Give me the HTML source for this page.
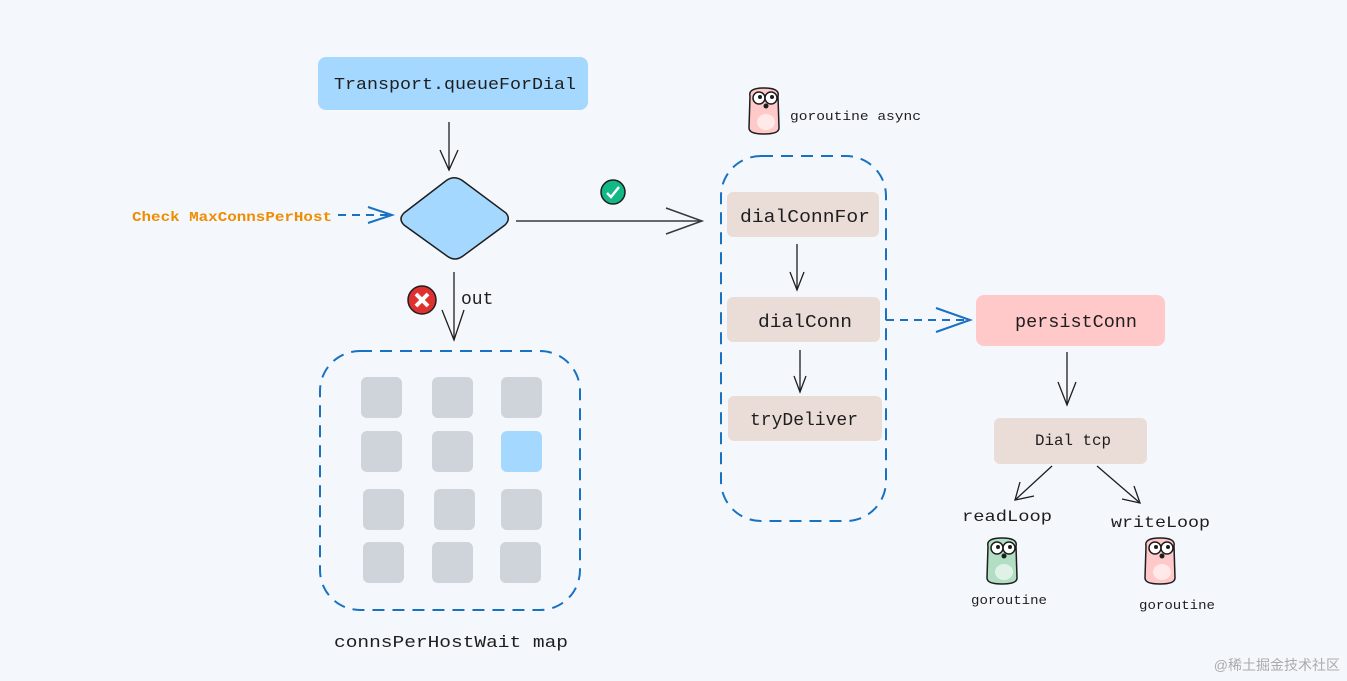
<!DOCTYPE html>
<html><head><meta charset="utf-8"><style>
html,body{margin:0;padding:0;background:#f4f8fd;}
svg{display:block;}
text{font-family:"Liberation Mono","DejaVu Sans Mono",monospace;fill:#1e1e1e;}
</style></head><body>
<svg width="1347" height="681" viewBox="0 0 1347 681" xmlns="http://www.w3.org/2000/svg">
<defs>
<g id="gopher">
<path d="M-14,-18 Q-16,-26 0,-26 Q16,-26 14,-18 L15,14 Q15,20 0,20 Q-15,20 -15,14 Z" stroke="#1e1e1e" stroke-width="1.5"/>
<circle cx="-5" cy="-16" r="6" fill="#fff" stroke="#1e1e1e" stroke-width="1.5"/>
<circle cx="7" cy="-16" r="6" fill="#fff" stroke="#1e1e1e" stroke-width="1.5"/>
<circle cx="-4" cy="-17" r="2" fill="#1e1e1e"/><circle cx="8" cy="-17" r="2" fill="#1e1e1e"/>
<circle cx="2" cy="-8" r="2.5" fill="#1e1e1e"/>
<ellipse cx="2" cy="8" rx="9" ry="8" fill="#fff" opacity="0.6"/>
</g>
</defs>
<rect width="1347" height="681" fill="#f4f8fd"/>

<rect x="318" y="57" width="270" height="53" rx="8" fill="#a5d8ff"/>
<text x="334" y="89" font-size="17" textLength="242" lengthAdjust="spacingAndGlyphs">Transport.queueForDial</text>
<line x1="449" y1="122" x2="449" y2="170" stroke="#1e1e1e" stroke-width="1.3"/>
<polyline points="440,150 449,170 458,150" fill="none" stroke="#1e1e1e" stroke-width="1.3"/>

<path d="M447,180 Q455,175 463,181 L506,213 Q511,219 505,225 L463,256 Q455,262 447,256 L404,225 Q398,219 404,213 Z" fill="#a5d8ff" stroke="#1e1e1e" stroke-width="1.5"/>
<text x="132" y="221" font-size="14" font-weight="bold" textLength="200" lengthAdjust="spacingAndGlyphs" style="fill:#f08c00">Check MaxConnsPerHost</text>
<line x1="338" y1="215" x2="392" y2="215" stroke="#1971c2" stroke-width="2" stroke-dasharray="8,6"/>
<polyline points="368,207 392,215 368,223" fill="none" stroke="#1971c2" stroke-width="2"/>

<line x1="516" y1="221" x2="702" y2="221" stroke="#343a40" stroke-width="1.5"/>
<polyline points="666,208 702,221 666,234" fill="none" stroke="#343a40" stroke-width="1.5"/>
<circle cx="613" cy="192" r="12" fill="#12b886" stroke="#1e1e1e" stroke-width="1.5"/>
<polyline points="607,193 611,197 619,187" fill="none" stroke="#fff" stroke-width="2.5"/>

<line x1="454" y1="272" x2="454" y2="340" stroke="#1e1e1e" stroke-width="1.3"/>
<polyline points="442,310 454,340 464,310" fill="none" stroke="#1e1e1e" stroke-width="1.3"/>
<circle cx="422" cy="300" r="14" fill="#e03131" stroke="#1e1e1e" stroke-width="1.5"/>
<path d="M416,294 L428,306 M428,294 L416,306" stroke="#fff" stroke-width="4"/>
<text x="461" y="304" font-size="18">out</text>

<rect x="320" y="351" width="260" height="259" rx="40" fill="none" stroke="#1971c2" stroke-width="2" stroke-dasharray="12,8"/>
<g fill="#ced4da">
<rect x="361" y="377" width="41" height="41" rx="6"/><rect x="432" y="377" width="41" height="41" rx="6"/><rect x="501" y="377" width="41" height="41" rx="6"/>
<rect x="361" y="431" width="41" height="41" rx="6"/><rect x="432" y="431" width="41" height="41" rx="6"/><rect x="501" y="431" width="41" height="41" rx="6" fill="#a5d8ff"/>
<rect x="363" y="489" width="41" height="41" rx="6"/><rect x="434" y="489" width="41" height="41" rx="6"/><rect x="501" y="489" width="41" height="41" rx="6"/>
<rect x="363" y="542" width="41" height="41" rx="6"/><rect x="432" y="542" width="41" height="41" rx="6"/><rect x="500" y="542" width="41" height="41" rx="6"/>
</g>
<text x="334" y="647" font-size="17" textLength="234" lengthAdjust="spacingAndGlyphs">connsPerHostWait map</text>

<use href="#gopher" x="764" y="114" fill="#ffc9c9"/>
<text x="790" y="120" font-size="13" textLength="131" lengthAdjust="spacingAndGlyphs">goroutine async</text>
<rect x="721" y="156" width="165" height="365" rx="40" fill="none" stroke="#1971c2" stroke-width="2" stroke-dasharray="12,8"/>
<rect x="727" y="192" width="152" height="45" rx="6" fill="#eaddd7"/>
<text x="740" y="222" font-size="18" textLength="130" lengthAdjust="spacingAndGlyphs">dialConnFor</text>
<line x1="797" y1="244" x2="797" y2="290" stroke="#1e1e1e" stroke-width="1.3"/>
<polyline points="790,272 797,290 804,272" fill="none" stroke="#1e1e1e" stroke-width="1.3"/>
<rect x="727" y="297" width="153" height="45" rx="6" fill="#eaddd7"/>
<text x="758" y="327" font-size="18" textLength="94" lengthAdjust="spacingAndGlyphs">dialConn</text>
<line x1="800" y1="350" x2="800" y2="392" stroke="#1e1e1e" stroke-width="1.3"/>
<polyline points="794,376 800,392 806,376" fill="none" stroke="#1e1e1e" stroke-width="1.3"/>
<rect x="728" y="396" width="154" height="45" rx="6" fill="#eaddd7"/>
<text x="750" y="425" font-size="18" textLength="108" lengthAdjust="spacingAndGlyphs">tryDeliver</text>

<line x1="886" y1="320" x2="970" y2="320" stroke="#1971c2" stroke-width="2" stroke-dasharray="8,6"/>
<polyline points="936,308 970,320 936,332" fill="none" stroke="#1971c2" stroke-width="2"/>

<rect x="976" y="295" width="189" height="51" rx="8" fill="#ffc9c9"/>
<text x="1015" y="327" font-size="18" textLength="122" lengthAdjust="spacingAndGlyphs">persistConn</text>
<line x1="1067" y1="352" x2="1067" y2="405" stroke="#1e1e1e" stroke-width="1.3"/>
<polyline points="1058,382 1067,405 1076,382" fill="none" stroke="#1e1e1e" stroke-width="1.3"/>
<rect x="994" y="418" width="153" height="46" rx="6" fill="#eaddd7"/>
<text x="1035" y="445" font-size="16" textLength="76" lengthAdjust="spacingAndGlyphs">Dial tcp</text>
<line x1="1052" y1="466" x2="1015" y2="500" stroke="#1e1e1e" stroke-width="1.3"/>
<polyline points="1020,482 1015,500 1034,496" fill="none" stroke="#1e1e1e" stroke-width="1.3"/>
<line x1="1097" y1="466" x2="1140" y2="503" stroke="#1e1e1e" stroke-width="1.3"/>
<polyline points="1122,499 1140,503 1134,486" fill="none" stroke="#1e1e1e" stroke-width="1.3"/>
<text x="962" y="521" font-size="16" textLength="90" lengthAdjust="spacingAndGlyphs">readLoop</text>
<text x="1111" y="527" font-size="16" textLength="99" lengthAdjust="spacingAndGlyphs">writeLoop</text>
<use href="#gopher" x="1002" y="564" fill="#b2dfc4"/>
<use href="#gopher" x="1160" y="564" fill="#ffc9c9"/>
<text x="971" y="604" font-size="13" textLength="76" lengthAdjust="spacingAndGlyphs">goroutine</text>
<text x="1139" y="609" font-size="13" textLength="76" lengthAdjust="spacingAndGlyphs">goroutine</text>
<text x="1340" y="670" text-anchor="end" font-size="14" style="fill:#aaa;font-family:'Liberation Sans','Noto Sans CJK SC',sans-serif">@稀土掘金技术社区</text>
</svg>
</body></html>
